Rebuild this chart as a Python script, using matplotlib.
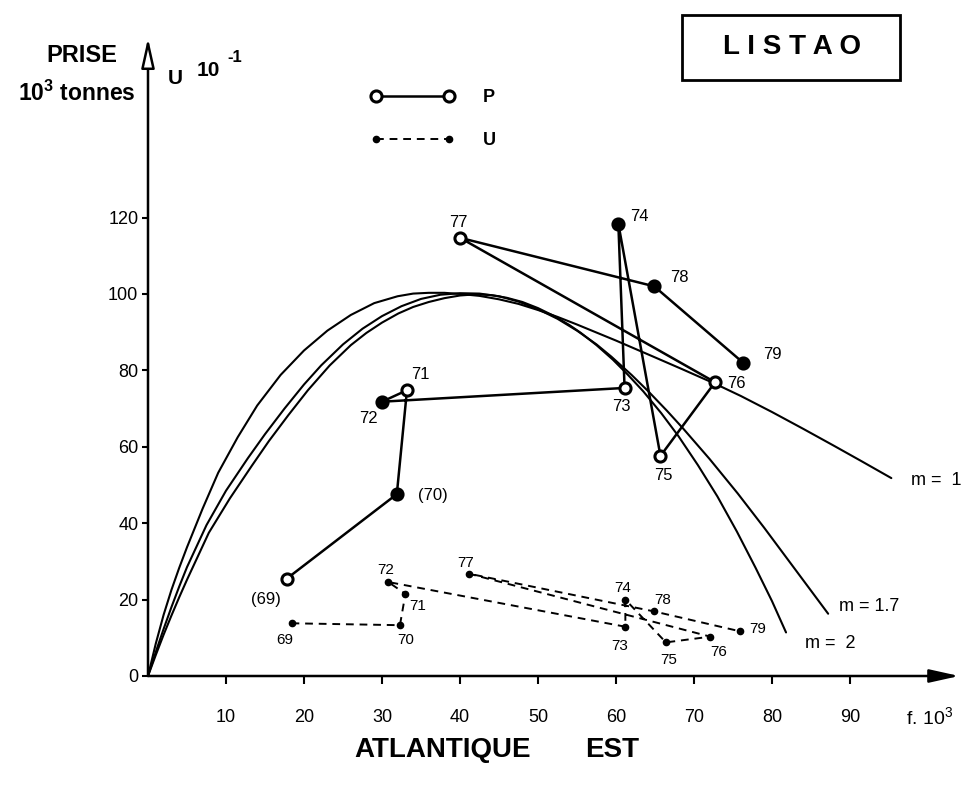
import matplotlib
matplotlib.use('Agg')
import matplotlib.pyplot as plt
from matplotlib.patches import Rectangle

# annees 1969-1979
years = ['69', '70', '71', '72', '73', '74', '75', '76', '77', '78', '79']

# prise P (10^3 tonnes) en fonction de l'effort f (10^3)
p_effort = [17.8, 31.9, 33.2, 30.0, 61.1, 60.3, 65.7, 72.7, 40.0, 64.9, 76.3]
p_prise = [25.5, 47.6, 74.8, 71.8, 75.4, 118.4, 57.6, 76.9, 114.7, 102.0, 82.0]
p_labels = ['(69)', '(70)', '71', '72', '73', '74', '75', '76', '77', '78', '79']

# prise par unite d'effort U (10^-1)
u_effort = [18.4, 32.3, 33.0, 30.8, 61.2, 61.2, 66.4, 72.1, 41.1, 64.9, 75.9]
u_pue = [13.8, 13.3, 21.5, 24.6, 12.9, 20.0, 8.8, 10.3, 26.8, 16.9, 11.7]

# courbes de production
m1_f = [0, 1, 2, 3, 4, 5, 7, 9, 11.5, 14, 17, 20, 23, 26, 29, 32, 34, 36, 38, 40,
        42.5, 45, 47.5, 50, 52.5, 55, 57.5, 60, 62.5, 65, 68.5, 72.7, 76, 80, 84, 88, 91.5, 95.3]
m1_y = [0, 8.5, 16, 22.5, 28.3, 33.7, 43.8, 53.2, 62.5, 70.8, 78.8, 85.2, 90.4, 94.5, 97.6, 99.4, 100.1, 100.3, 100.3, 100,
        99.5, 98.6, 97.4, 95.8, 94, 92, 89.9, 87.8, 85.6, 83.4, 80.3, 76.5, 73.3, 69.1, 64.7, 60.2, 56.2, 51.8]

m17_f = [0, 1, 2, 3, 4, 5, 7.5, 10, 12.8, 15, 17.5, 20, 22.2, 25, 27.5, 30, 32.5, 35, 37.5, 40,
         42.5, 45, 47.5, 50, 52.5, 55, 57.5, 59.4, 62, 64.1, 66.5, 68.6, 72, 75.6, 79, 82.9, 87.2]
m17_y = [0, 6.3, 12.3, 18, 23.4, 28.5, 39.5, 48.5, 57, 63.3, 70, 76.3, 81.3, 86.8, 90.9, 94.2, 96.8, 98.7, 99.8, 100.2,
         100.1, 99.4, 98, 96, 93.5, 90.4, 86.8, 83.6, 78.8, 74.6, 69.5, 64.8, 56.8, 47.8, 38.8, 28.1, 16.3]

m2_f = [0, 1, 2, 3, 4, 5, 7.8, 10.5, 13.3, 15.5, 18, 20.5, 23.3, 26, 28, 30, 32.1, 34, 36, 38, 40, 42,
        44, 46, 48, 50, 52, 54, 55.5, 57.5, 59.6, 61.5, 63.5, 65.8, 68, 70.5, 73, 75.5, 77.9, 80, 81.8]
m2_y = [0, 5.5, 10.8, 15.8, 20.6, 25.2, 37.5, 46.5, 55, 61.5, 68.3, 74.8, 81.3, 86.6, 89.8, 92.5, 94.9, 96.6, 97.9, 98.9, 99.6, 99.9,
        99.7, 99, 97.9, 96.3, 94.3, 91.9, 89.8, 86.6, 82.8, 78.9, 74.5, 68.8, 62.8, 55.2, 47, 37.8, 28.3, 19.6, 11.4]

x_ticks = [10, 20, 30, 40, 50, 60, 70, 80, 90]
y_ticks = [0, 20, 40, 60, 80, 100, 120]

# quels points P sont pleins
p_filled = [False, True, False, True, False, True, False, False, False, True, True]

plt.rcParams['font.family'] = ['Liberation Sans', 'DejaVu Sans']
plt.rcParams['mathtext.fontset'] = 'custom'
plt.rcParams['mathtext.rm'] = 'Liberation Sans'
plt.rcParams['mathtext.bf'] = 'Liberation Sans:bold'

fig = plt.figure(figsize=(9.73, 8.09), dpi=100)
ax = fig.add_axes([148 / 973, 133 / 809, 811.2 / 973, 638 / 809])
ax.set_xlim(0, 104)
ax.set_ylim(0, 167)
for s in ax.spines.values():
    s.set_visible(False)

# axes avec fleches
head = '-|>,head_length=0.9,head_width=0.2'
ax.annotate('', xy=(104, 0), xytext=(0, 0), annotation_clip=False,
            arrowprops=dict(arrowstyle=head, lw=1.8, color='k',
                            mutation_scale=20, shrinkA=0, shrinkB=0))
ax.annotate('', xy=(0, 167), xytext=(0, 0), annotation_clip=False,
            arrowprops=dict(arrowstyle=head, lw=1.8, ec='k', fc='white',
                            mutation_scale=20, shrinkA=0, shrinkB=0))

ax.set_xticks(x_ticks)
ax.set_xticklabels([str(t) for t in x_ticks])
ax.set_yticks(y_ticks)
ax.set_yticklabels([str(t) for t in y_ticks])
ax.tick_params(axis='x', direction='out', length=6, width=1.5, pad=18, labelsize=13)
ax.tick_params(axis='y', direction='out', length=4, width=1.5, pad=3, labelsize=13)

# courbes
curve_kw = dict(color='k', lw=1.5, solid_joinstyle='round', solid_capstyle='round')
ax.plot(m1_f, m1_y, **curve_kw)
ax.plot(m17_f, m17_y, **curve_kw)
ax.plot(m2_f, m2_y, **curve_kw)
for xs, ys, lab, off in [(m1_f, m1_y, 'm =  1', (14, -2)),
                         (m17_f, m17_y, 'm = 1.7', (8, 5)),
                         (m2_f, m2_y, 'm =  2', (14, -8))]:
    ax.annotate(lab, (xs[-1], ys[-1]), xytext=off, textcoords='offset points',
                ha='left', va='center', fontsize=13, annotation_clip=False)

# P
p_line, = ax.plot(p_effort, p_prise, '-', color='k', lw=1.8, marker='o', ms=8,
                  mfc='white', mec='k', mew=2.2, zorder=4)
ax.scatter([x for x, f in zip(p_effort, p_filled) if f],
           [y for y, f in zip(p_prise, p_filled) if f],
           s=60, c='k', zorder=5)
p_offsets = [(-15, -15), (26, -1), (10, 11), (-10, -12), (-2, -13), (15, 5),
             (2, -14), (15, -1), (-1, 11), (18, 6), (21, 6)]
for x, y, lab, off in zip(p_effort, p_prise, p_labels, p_offsets):
    ax.annotate(lab, (x, y), xytext=off, textcoords='offset points',
                ha='center', va='center', fontsize=12)

# U
u_line, = ax.plot(u_effort, u_pue, color='k', lw=1.4, dashes=(4, 3), marker='o', ms=4.5,
                  mfc='k', mec='k', zorder=4)
u_offsets = [(-5, -12), (4, -11), (9, -9), (-2, 9), (-4, -14), (-2, 8),
             (2, -13), (6, -11), (-2, 8), (6, 8), (13, 2)]
for x, y, lab, off in zip(u_effort, u_pue, years, u_offsets):
    ax.annotate(lab, (x, y), xytext=off, textcoords='offset points',
                ha='center', va='center', fontsize=11)

ax.legend([p_line, u_line], ['P', 'U'], loc='upper left',
          bbox_to_anchor=(362 / 973, 1 - 80 / 809), bbox_transform=fig.transFigure,
          frameon=False, numpoints=2, handlelength=4.6, handletextpad=1.6,
          labelspacing=1.45, borderpad=0, prop={'size': 13, 'weight': 'bold'})

# textes
fig.text(82 / 973, 1 - 55 / 809, 'PRISE', ha='center', va='center', fontsize=17, weight='bold')
fig.text(77 / 973, 1 - 93 / 809, r'$\mathbf{10^3}$ tonnes', ha='center', va='center', fontsize=16.5,
         weight='bold')
fig.text(175 / 973, 1 - 78 / 809, 'U', ha='center', va='center', fontsize=15, weight='bold')
fig.text(208 / 973, 1 - 70 / 809, '10', ha='center', va='center', fontsize=15, weight='bold')
fig.text(235 / 973, 1 - 57 / 809, '-1', ha='center', va='center', fontsize=12, weight='bold')
fig.text(930 / 973, 1 - 718 / 809, r'f. $10^3$', ha='center', va='center', fontsize=14)

fig.patches.append(Rectangle((682 / 973, 1 - 80 / 809), 218 / 973, 65 / 809, transform=fig.transFigure,
                             fill=False, ec='k', lw=2))
fig.text(792 / 973, 1 - 47 / 809, 'L I S T A O', ha='center', va='center', fontsize=20, weight='bold')

fig.text(443 / 973, 1 - 750 / 809, 'ATLANTIQUE', ha='center', va='center', fontsize=20, weight='bold')
fig.text(612 / 973, 1 - 750 / 809, 'EST', ha='center', va='center', fontsize=20, weight='bold')

fig.savefig('out.png', dpi=100)
